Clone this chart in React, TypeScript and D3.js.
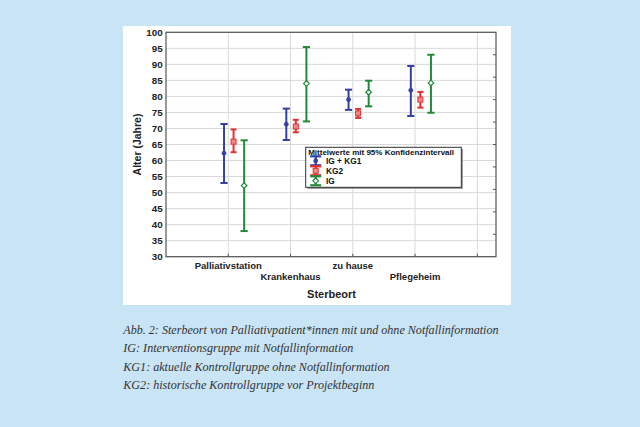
import React from 'react';
import * as d3 from 'd3';

// categories (Sterbeort) and the three groups
const categories = ['Palliativstation', 'Krankenhaus', 'zu hause', 'Pflegeheim'];
const seriesNames = ['IG + KG1', 'KG2', 'IG'];

// means and 95% CI bounds
const igkg1Mean = [62.3, 71.3, 79.0, 81.9];
const igkg1Low = [53.0, 66.4, 75.8, 73.9];
const igkg1High = [71.4, 76.2, 82.1, 89.5];

const kg2Mean = [65.9, 70.6, 74.7, 79.0];
const kg2Low = [62.6, 68.8, 73.3, 76.5];
const kg2High = [69.7, 72.7, 76.1, 81.4];

const igMean = [52.2, 84.0, 81.3, 84.2];
const igLow = [38.0, 72.2, 76.9, 74.9];
const igHigh = [66.3, 95.4, 84.9, 93.0];

const yTicks = [30, 35, 40, 45, 50, 55, 60, 65, 70, 75, 80, 85, 90, 95, 100];
const xGrid = [1, 2, 3, 4, 5];

const captionLines = [
  'Abb. 2: Sterbeort von Palliativpatient*innen mit und ohne Notfallinformation',
  'IG: Interventionsgruppe mit Notfallinformation',
  'KG1: aktuelle Kontrollgruppe ohne Notfallinformation',
  'KG2: historische Kontrollgruppe vor Projektbeginn',
];

const colors = ['#3240a3', '#e2312f', '#22893b'];
const offsets = [-0.068, 0.085, 0.255];

const font = 'Liberation Sans, Arial, sans-serif';

const App: React.FC = () => {
  const W = 640;
  const H = 427;
  const plot = { left: 166, right: 496, top: 32.3, bottom: 256.7 };

  const x = d3.scaleLinear().domain([0, 5.3]).range([plot.left, plot.right]);
  const y = d3.scaleLinear().domain([30, 100]).range([plot.bottom, plot.top]);
  // inner tick marks on the right frame (10 intervals)
  const yRight = d3.scaleLinear().domain([0, 10]).range([plot.bottom, plot.top]);

  const series = [
    { mean: igkg1Mean, low: igkg1Low, high: igkg1High },
    { mean: kg2Mean, low: kg2Low, high: kg2High },
    { mean: igMean, low: igLow, high: igHigh },
  ];

  const marker = (s: number, cx: number, cy: number, key: string) => {
    const c = colors[s];
    if (s === 0) return <circle key={key} cx={cx} cy={cy} r={2} fill={c} stroke={c} strokeWidth={0.8} />;
    if (s === 1)
      return <rect key={key} x={cx - 2.5} y={cy - 2.5} width={5} height={5} fill="#f08a88" stroke={c} strokeWidth={1} />;
    return (
      <path key={key} d={`M${cx},${cy - 2.8}L${cx + 2.8},${cy}L${cx},${cy + 2.8}L${cx - 2.8},${cy}Z`} fill="#fff" stroke={c} strokeWidth={1.2} />
    );
  };

  const legend = { x: 305.7, y: 147.3, w: 155.6, h: 40 };

  return (
    <svg width={W} height={H} style={{ position: 'fixed', left: 0, top: 0 }}>
      <rect width={W} height={H} fill="#c9e4f5" />
      <rect x={123} y={26} width={388} height={279} fill="#fff" />

      {/* grid */}
      {yTicks.map(t => (
        <line key={'gy' + t} x1={plot.left} x2={plot.right} y1={y(t)} y2={y(t)} stroke="#d9d9d9" strokeWidth={1} />
      ))}
      {xGrid.map(t => (
        <line key={'gx' + t} x1={x(t)} x2={x(t)} y1={plot.top} y2={plot.bottom} stroke="#d9d9d9" strokeWidth={1} />
      ))}

      {/* frame */}
      <rect x={plot.left} y={plot.top} width={plot.right - plot.left} height={plot.bottom - plot.top} fill="none" stroke="#555" strokeWidth={1.2} />
      {d3.range(1, 10).map(t => (
        <line key={'rt' + t} x1={plot.right - 3} x2={plot.right} y1={yRight(t)} y2={yRight(t)} stroke="#555" strokeWidth={1} />
      ))}
      {xGrid.map(t => (
        <line key={'bt' + t} x1={x(t)} x2={x(t)} y1={plot.bottom - 3} y2={plot.bottom} stroke="#555" strokeWidth={1} />
      ))}

      {/* y tick labels */}
      {yTicks.map(t => (
        <text key={'yl' + t} x={162.7} y={y(t)} dy="0.35em" textAnchor="end" fontFamily={font} fontWeight="bold" fontSize={9.8} fill="#222">
          {t}
        </text>
      ))}
      <text transform={`translate(141,${(plot.top + plot.bottom) / 2})`} fontFamily={font} fontWeight="bold" fontSize={10.5} fill="#222">
        <tspan transform="rotate(-90)" />
      </text>
      <text transform={`translate(141,${(plot.top + plot.bottom) / 2}) rotate(-90)`} textAnchor="middle" fontFamily={font} fontWeight="bold" fontSize={10.5} fill="#222">
        Alter (Jahre)
      </text>

      {/* x labels, staggered */}
      {categories.map((c, i) => (
        <text key={'xl' + c} x={x(i + 1)} y={i % 2 === 0 ? 269 : 280} textAnchor="middle" fontFamily={font} fontWeight="bold" fontSize={9.5} fill="#222">
          {c}
        </text>
      ))}
      <text x={331.5} y={298} textAnchor="middle" fontFamily={font} fontWeight="bold" fontSize={11} fill="#222">
        Sterbeort
      </text>

      {/* error bars */}
      {series.map((s, si) =>
        categories.map((_, i) => {
          const cx = x(i + 1 + offsets[si]);
          const cap = si === 1 ? 3 : 3.6;
          return (
            <g key={`eb${si}-${i}`} stroke={colors[si]} strokeWidth={2}>
              <line x1={cx} x2={cx} y1={y(s.low[i])} y2={y(s.high[i])} />
              <line x1={cx - cap} x2={cx + cap} y1={y(s.high[i])} y2={y(s.high[i])} />
              <line x1={cx - cap} x2={cx + cap} y1={y(s.low[i])} y2={y(s.low[i])} />
              {marker(si, cx, y(s.mean[i]), 'm')}
            </g>
          );
        })
      )}

      {/* legend */}
      <rect x={legend.x + 1.5} y={legend.y + 1.5} width={legend.w} height={legend.h} fill="#888" />
      <rect x={legend.x} y={legend.y} width={legend.w} height={legend.h} fill="#fff" stroke="#333" strokeWidth={1} />
      <text x={legend.x + 2.5} y={legend.y + 7.5} fontFamily={font} fontWeight="bold" fontSize={8} fill="#111">
        Mittelwerte mit 95% Konfidenzintervall
      </text>
      {seriesNames.map((n, i) => {
        const cy = legend.y + 13.5 + i * 10;
        const cx = 315.7;
        return (
          <g key={'lg' + n}>
            <g stroke={colors[i]} strokeWidth={2.2}>
              <line x1={cx} x2={cx} y1={cy - 5} y2={cy + 5} />
              <line x1={cx - 5.5} x2={cx + 5.5} y1={cy - 4.5} y2={cy - 4.5} />
              <line x1={cx - 5.5} x2={cx + 5.5} y1={cy + 4.5} y2={cy + 4.5} />
            </g>
            {marker(i, cx, cy, 'lm')}
            <text x={326} y={cy} dy="0.35em" fontFamily={font} fontWeight="bold" fontSize={8.3} fill="#111">
              {n}
            </text>
          </g>
        );
      })}

      {/* caption */}
      {captionLines.map((l, i) => (
        <text key={'cap' + i} x={123.3} y={333.8 + i * 18.5} fontFamily="Liberation Serif, serif" fontStyle="italic" fontSize={12.1} fill="#333">
          {l}
        </text>
      ))}
    </svg>
  );
};

export default App;
